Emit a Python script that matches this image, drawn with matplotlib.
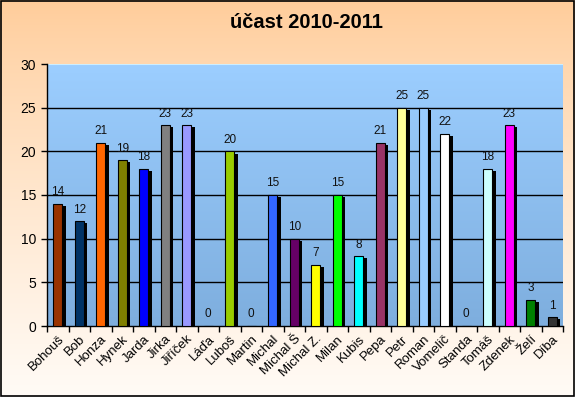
import matplotlib
matplotlib.use('Agg')
import matplotlib.pyplot as plt
import matplotlib.patheffects as pe
import numpy as np

plt.rcParams['font.family'] = ['Liberation Sans', 'DejaVu Sans']

names = ['Bohouš', 'Bob', 'Honza', 'Hynek', 'Jarda', 'Jirka', 'Jiříček', 'Láďa',
         'Luboš', 'Martin', 'Michal', 'Michal Š', 'Michal Z.', 'Milan', 'Kubis',
         'Pepa', 'Petr', 'Roman', 'Vomelič', 'Standa', 'Tomáš', 'Zdenek', 'Želí', 'Díba']
ucast = [14, 12, 21, 19, 18, 23, 23, 0, 20, 0, 15, 10, 7, 15, 8, 21, 25, 25, 22, 0,
         18, 23, 3, 1]
colors = ['#993300', '#003366', '#FF6600', '#808000', '#0000FF', '#808080', '#9999FF',
          '#FFFFFF', '#99CC00', '#FFFFFF', '#3366FF', '#660066', '#FFFF00', '#00FF00',
          '#00FFFF', '#993366', '#FFFF99', '#99CCFF', '#FFFFFF', '#FFFFFF', '#CCFFFF',
          '#FF00FF', '#008000', '#333333']

fig = plt.figure(figsize=(5.75, 3.97), dpi=100)

# figure background gradient (peach -> cream)
bg = fig.add_axes([0, 0, 1, 1], zorder=-10)
t = np.linspace(0, 1, 200)[:, None] ** 0.8
top = np.array([255, 204, 153]) / 255
bot = np.array([255, 251, 246]) / 255
grad = top[None, None, :] * (1 - t[..., None]) + bot[None, None, :] * t[..., None]
grad = np.repeat(grad, 2, axis=1)
bg.imshow(grad, aspect='auto', extent=[0, 1, 0, 1])
bg.set_xlim(0, 1)
bg.set_ylim(0, 1)
bg.add_patch(plt.Rectangle((0.001, 0.002), 0.997, 0.995, fill=False, lw=1.2,
                           edgecolor='black'))
bg.axis('off')

ax = fig.add_axes([47 / 575, 1 - 326 / 397, 516 / 575, 262 / 397])
x = np.arange(len(names))
n = len(names)

# plot area gradient
t2 = np.linspace(0, 1, 200)[:, None]
ptop = np.array([156, 206, 255]) / 255
pbot = np.array([126, 174, 222]) / 255
pgrad = ptop[None, None, :] * (1 - t2[..., None]) + pbot[None, None, :] * t2[..., None]
pgrad = np.repeat(pgrad, 2, axis=1)
ax.imshow(pgrad, aspect='auto', extent=[-0.5, n - 0.5, 0, 30], zorder=0)

for yv in range(5, 30, 5):
    ax.axhline(yv, color='black', lw=1, zorder=1)
ax.axhline(30, color='#CCEEFF', lw=1.5, zorder=1)

bars = ax.bar(x, ucast, width=0.44, color=colors, edgecolor='black', linewidth=0.8,
              zorder=3)
for b in bars:
    b.set_path_effects([pe.SimplePatchShadow(offset=(2.2, -1.6), shadow_rgbFace='black',
                                             alpha=1.0), pe.Normal()])
    h = b.get_height()
    ax.annotate('{}'.format(h), xy=(b.get_x() + b.get_width() / 2, h),
                xytext=(0, 4), textcoords='offset points', ha='center', va='bottom',
                fontsize=8.5, color='#111111', zorder=4)

ax.set_xlim(-0.5, n - 0.5)
ax.set_ylim(0, 30)
ax.set_yticks(range(0, 31, 5))
ax.set_xticks(np.arange(-0.5, n, 1))
ax.set_xticklabels([])
ax.set_xticks(x, minor=True)
ax.set_xticklabels(names, minor=True, rotation=45, ha='right', rotation_mode='anchor',
                   fontsize=9.5)
ax.tick_params(axis='x', which='minor', length=0, pad=5)
ax.tick_params(axis='x', which='major', length=4, direction='out', width=1)
ax.tick_params(axis='y', length=4, direction='out', width=1, labelsize=10, pad=4)

for s in ['top', 'right']:
    ax.spines[s].set_visible(False)
ax.spines['left'].set_linewidth(1)
ax.spines['bottom'].set_linewidth(1)
ax.patch.set_alpha(0)

fig.text(306 / 575, 1 - 22 / 397, 'účast 2010-2011', ha='center', va='center',
         fontsize=14.5, fontweight='bold')

fig.savefig('out.png', dpi=100)
